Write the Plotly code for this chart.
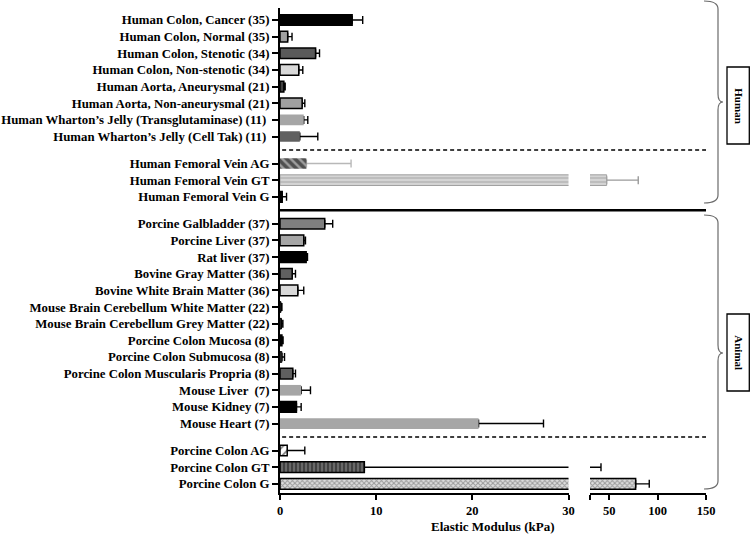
import plotly.graph_objects as go

# ---------------- data ----------------
labels = [
    "Human Colon, Cancer (35)",
    "Human Colon, Normal (35)",
    "Human Colon, Stenotic (34)",
    "Human Colon, Non-stenotic (34)",
    "Human Aorta, Aneurysmal (21)",
    "Human Aorta, Non-aneurysmal (21)",
    "Human Wharton\u2019s Jelly (Transglutaminase) (11) ",
    "Human Wharton\u2019s Jelly (Cell Tak) (11) ",
    "Human Femoral Vein AG",
    "Human Femoral Vein GT",
    "Human Femoral Vein G",
    "Porcine Galbladder (37)",
    "Porcine Liver (37)",
    "Rat liver (37)",
    "Bovine Gray Matter (36)",
    "Bovine White Brain Matter (36)",
    "Mouse Brain Cerebellum White Matter (22)",
    "Mouse Brain Cerebellum Grey Matter (22)",
    "Porcine Colon Mucosa (8)",
    "Porcine Colon Submucosa (8)",
    "Porcine Colon Muscularis Propria (8)",
    "Mouse Liver  (7)",
    "Mouse Kidney (7)",
    "Mouse Heart (7)",
    "Porcine Colon AG",
    "Porcine Colon GT",
    "Porcine Colon G",
]
values = [7.5, 0.8, 3.7, 1.95, 0.4, 2.3, 2.47, 2.06,
          2.75, 47.2, 0.23,
          4.65, 2.47, 2.72, 1.27, 1.85, 0.1, 0.15, 0.2, 0.2, 1.33, 2.2, 1.71, 20.65,
          0.75, 8.77, 77.2]
errors = [1.1, 0.45, 0.41, 0.42, 0.14, 0.28, 0.42, 1.87,
          4.64, 32.7, 0.45,
          0.83, 0.18, 0.14, 0.34, 0.62, 0.1, 0.15, 0.12, 0.27, 0.28, 0.97, 0.49, 6.75,
          1.83, 32.6, 14.1]
groups = [0] * 8 + [1] * 3 + [2] * 13 + [3] * 3
x1_ticks = [0, 10, 20, 30]
x2_ticks = [30, 50, 100, 150]
x2_ticktext = ["", "50", "100", "150"]

# ---------------- styles ----------------
# (fill, outline colour, outline width, pattern shape, pattern colour, error colour)
styles = [
    ("#000000", "#000000", 1.5, "", None, "#000000"),
    ("#a0a0a0", "#000000", 1.5, "", None, "#000000"),
    ("#5a5a5a", "#000000", 1.5, "", None, "#000000"),
    ("#d9d9d9", "#000000", 1.5, "", None, "#000000"),
    ("#404040", "#000000", 1.5, "", None, "#000000"),
    ("#a0a0a0", "#000000", 1.5, "", None, "#000000"),
    ("#a6a6a6", "#a6a6a6", 0, "", None, "#000000"),
    ("#606060", "#606060", 0, "", None, "#000000"),
    ("#a0a0a0", "#a0a0a0", 0, "\\", "#000000", "#b8b8b8"),
    ("#d4d4d4", "#a0a0a0", 1, "-", "#9a9a9a", "#9a9a9a"),
    ("#000000", "#000000", 1.5, "", None, "#000000"),
    ("#7f7f7f", "#000000", 1.5, "", None, "#000000"),
    ("#a6a6a6", "#000000", 1.5, "", None, "#000000"),
    ("#000000", "#000000", 1.5, "", None, "#000000"),
    ("#606060", "#000000", 1.5, "", None, "#000000"),
    ("#d9d9d9", "#000000", 1.5, "", None, "#000000"),
    ("#404040", "#000000", 1, "", None, "#000000"),
    ("#404040", "#000000", 1, "", None, "#000000"),
    ("#000000", "#000000", 1.5, "", None, "#000000"),
    ("#404040", "#000000", 1, "", None, "#000000"),
    ("#606060", "#000000", 1.5, "", None, "#000000"),
    ("#a6a6a6", "#a6a6a6", 0, "", None, "#000000"),
    ("#000000", "#000000", 1.5, "", None, "#000000"),
    ("#a6a6a6", "#a6a6a6", 0, "", None, "#000000"),
    ("#ffffff", "#000000", 1.5, "/", "#000000", "#000000"),
    ("#404040", "#000000", 1.5, "|", "#b0b0b0", "#000000"),
    ("#e0e0e0", "#000000", 1.5, "x", "#555555", "#000000"),
]
pattern_size = {"\\": 6, "/": 6, "-": 4, "|": 4, "x": 3.5}
pattern_solidity = {"\\": 0.6, "/": 0.3, "-": 0.4, "|": 0.35, "x": 0.5}

GAP = 0.62
pos = [i + g * GAP for i, g in enumerate(groups)]
BAR_W = 0.64
FONT = "Liberation Serif"

fig = go.Figure()

# error bars first (transparent bars) so the real bars cover the base cap
for xa in ("x", "x2"):
    for i in range(len(values)):
        fig.add_trace(go.Bar(
            x=[values[i]], y=[pos[i]], orientation="h", xaxis=xa, yaxis="y",
            width=BAR_W, marker=dict(color="rgba(0,0,0,0)", line=dict(width=0)),
            error_x=dict(type="data", symmetric=False, array=[errors[i]], arrayminus=[0],
                         color=styles[i][5], thickness=1.4, width=4),
            showlegend=False, hoverinfo="skip"))

for xa in ("x", "x2"):
    for i in range(len(values)):
        fill, lc, lw, shp, fg, _ = styles[i]
        marker = dict(color=fill, line=dict(color=lc, width=lw))
        if shp:
            marker["pattern"] = dict(shape=shp, fgcolor=fg, size=pattern_size[shp],
                                     solidity=pattern_solidity[shp], fillmode="overlay")
        fig.add_trace(go.Bar(
            x=[values[i]], y=[pos[i]], orientation="h", xaxis=xa, yaxis="y",
            width=BAR_W, marker=marker, showlegend=False, name=labels[i]))

# ---------------- layout ----------------
L, R, T, B = 280, 706, 8, 493
W, H = 750, 534


def px_x(x):
    return (x - L) / (R - L)


def px_y(y):
    return (B - y) / (B - T)


d1 = px_x(568.5)
d2 = px_x(590)

axis_common = dict(showline=True, linewidth=2, linecolor="black", ticks="outside",
                   ticklen=5, tickwidth=2, tickcolor="black", showgrid=False,
                   zeroline=False, fixedrange=True, automargin=False,
                   tickfont=dict(family=FONT, size=12.5, color="black", weight="bold"))

shapes = []
# separators between groups
sep_solid = (pos[10] + pos[11]) / 2
sep_d1 = (pos[7] + pos[8]) / 2
sep_d2 = (pos[23] + pos[24]) / 2
for yv, dash, w in ((sep_d1, "4px,3px", 1.5), (sep_d2, "4px,3px", 1.5), (sep_solid, "solid", 2.5)):
    shapes.append(dict(type="line", xref="paper", yref="y", x0=0.005 if dash != "solid" else 0,
                       x1=1, y0=yv, y1=yv, line=dict(color="black", width=w, dash=dash)))


def brace(ytop, ybot, ymid, x0=704, xv=718, xt=723, r=8):
    pts = [
        f"M {px_x(x0)},{px_y(ytop)}",
        f"Q {px_x(xv)},{px_y(ytop)} {px_x(xv)},{px_y(ytop + r)}",
        f"L {px_x(xv)},{px_y(ymid - r)}",
        f"Q {px_x(xv)},{px_y(ymid)} {px_x(xt)},{px_y(ymid)}",
        f"Q {px_x(xv)},{px_y(ymid)} {px_x(xv)},{px_y(ymid + r)}",
        f"L {px_x(xv)},{px_y(ybot - r)}",
        f"Q {px_x(xv)},{px_y(ybot)} {px_x(x0)},{px_y(ybot)}",
    ]
    return dict(type="path", xref="paper", yref="paper", path=" ".join(pts),
                line=dict(color="#6b6b6b", width=1.2))


shapes.append(brace(1, 203, 102))
shapes.append(brace(215, 489, 353))

annotations = []
for (yt, yb, txt) in ((67, 144, "Human"), (314, 391, "Animal")):
    shapes.append(dict(type="rect", xref="paper", yref="paper",
                       x0=px_x(727), x1=px_x(749.3), y0=px_y(yb), y1=px_y(yt),
                       line=dict(color="black", width=1.3), fillcolor="white"))
    annotations.append(dict(x=px_x(738.2), y=px_y((yt + yb) / 2), xref="paper", yref="paper",
                            text=txt, textangle=90, showarrow=False,
                            font=dict(family=FONT, size=11, color="black", weight="bold"),
                            xanchor="center", yanchor="middle"))

annotations.append(dict(x=0.5, y=px_y(526.5), xref="paper", yref="paper",
                        text="Elastic Modulus (kPa)", showarrow=False,
                        font=dict(family=FONT, size=13, color="black", weight="bold"),
                        xanchor="center", yanchor="middle"))

fig.update_layout(
    width=W, height=H,
    margin=dict(l=L, r=W - R, t=T, b=H - B, pad=0, autoexpand=False),
    paper_bgcolor="white", plot_bgcolor="white",
    barmode="overlay", showlegend=False,
    xaxis=dict(domain=[0, d1], range=[0, 30], tickvals=x1_ticks, anchor="y", **axis_common),
    xaxis2=dict(domain=[d2, 1], range=[30, 150], tickvals=x2_ticks, ticktext=x2_ticktext,
                anchor="y", **axis_common),
    yaxis=dict(range=[pos[-1] + 0.55, -0.72], tickvals=pos, ticktext=labels,
               showline=True, linewidth=2, linecolor="black", ticks="outside",
               ticklen=6, tickwidth=1.5, tickcolor="black", showgrid=False,
               zeroline=False, fixedrange=True, automargin=False,
               tickfont=dict(family=FONT, size=12.8, color="black", weight="bold")),
    shapes=shapes, annotations=annotations,
)

fig.write_html("out.html")
